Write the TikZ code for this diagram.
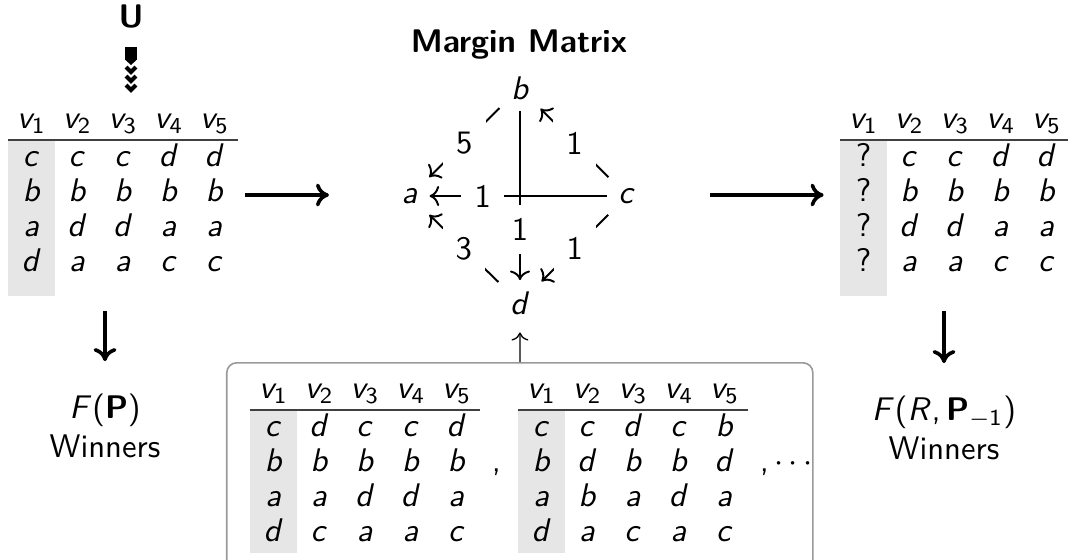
\documentclass[tikz,border=0pt]{standalone}
\renewcommand{\familydefault}{\sfdefault}
\DeclareSymbolFont{operators}{OT1}{cmss}{m}{n}
\DeclareSymbolFont{letters}{OT1}{cmss}{m}{sl}
\SetMathAlphabet{\mathbf}{normal}{OT1}{cmss}{bx}{n}
\DeclareMathSymbol{,}{\mathpunct}{operators}{"2C}
\usetikzlibrary{positioning,arrows.meta,backgrounds,calc,matrix}
\definecolor{VoterGray}{HTML}{E6E6E6}
\definecolor{FrameGray}{HTML}{9A9A9A}

\tikzset{
  ballot/.style={matrix of math nodes, inner sep=0pt, column sep=0pt, row sep=0pt,
    nodes={minimum width=14pt, inner xsep=0pt, inner ysep=0.85pt,
      text height=7pt, text depth=2pt}},
  flow/.style={line width=1.1pt, -{Computer Modern Rightarrow[length=4pt, width=7pt]}},
  margin/.style={semithick, ->},
  weight/.style={fill=white, inner sep=4pt},
  ublock/.style={line width=3.4pt},
  chevron/.style={line width=1.2pt, line join=miter}
}

% grey first voter column and the rule under the header
\newcommand{\votercol}[2]{%
  \begin{scope}[on background layer]
    \fill[VoterGray] (#1-2-1.north west) rectangle ([yshift=-#2]#1-5-1.south east);
  \end{scope}
  \draw[black!75, line width=0.5pt] ([yshift=-0.5pt]#1-1-1.south west) -- ([yshift=-0.5pt]#1-1-5.south east);
}

\begin{document}
\begin{tikzpicture}[x=0.3058pt, y=-0.3058pt]
\useasboundingbox (0,0) rectangle (1068,560);

% sincere profile
\matrix (prof) [ballot, anchor=north west] at (8,102) {
  v_1 & v_2 & v_3 & v_4 & v_5 \\[1pt]
  c & c & c & d & d \\
  b & b & b & b & b \\
  a & d & d & a & a \\
  d & a & a & c & c \\
};
\votercol{prof}{4.5pt}

% voter 1 changes her ballot
\node[font=\bfseries] (voter) at (131,17) {U};
\coordinate (ublk) at (131,60);
\draw[ublock] ([yshift=-2pt]voter.south) -- (ublk);
\fill ($(ublk)+(-5.5,0)$) -- ($(ublk)+(0,5)$) -- ($(ublk)+(5.5,0)$) -- cycle;
\foreach \k in {0,1,2}
  \draw[chevron] ($(ublk)+(-5,7+9*\k)$) -- ($(ublk)+(0,12+9*\k)$) -- ($(ublk)+(5,7+9*\k)$);

\node[align=center] (winL) at (105,426) {$F(\mathbf{P})$\\Winners};
\draw[flow, shorten <=9pt, shorten >=6.5pt] (prof.south -| winL) -- (winL);

% margin graph
\node[font=\bfseries] (mmtitle) at (519,45) {Margin Matrix};
\node (cb) at (520,88) {$b$};
\node (ca) at (410,196) {$a$};
\node (cc) at (627,196) {$c$};
\node (cd) at (520,303) {$d$};

\draw[margin] (cb) -- node[weight] {5} (ca);
\draw[margin] (cc) -- node[weight] {1} (cb);
\draw[margin] (cd) -- node[weight] {3} (ca);
\draw[margin] (cc) -- node[weight] {1} (cd);
\draw[margin] (cc) -- node[weight, pos=0.7] {1} (ca);
\draw[margin] (cb) -- node[weight, pos=0.7] {1} (cd);

\coordinate (toM) at (329,195);
\draw[flow, shorten <=2pt] (prof.east |- toM) -- (toM);

% profile after voter 1 deviates
\matrix (dev) [ballot, anchor=north west] at (840,102) {
  v_1 & v_2 & v_3 & v_4 & v_5 \\[1pt]
  ? & c & c & d & d \\
  ? & b & b & b & b \\
  ? & d & d & a & a \\
  ? & a & a & c & c \\
};
\votercol{dev}{4.5pt}

\coordinate (fromM) at (710,195);
\draw[flow, shorten >=5pt] (fromM) -- (fromM -| dev.west);

\node[align=center] (winR) at (944,428) {$F(R,\mathbf{P}_{-1})$\\Winners};
\draw[flow, shorten <=9pt, shorten >=6.5pt] (dev.south -| winR) -- (winR);

% profiles with the same margins
\node[draw=FrameGray, line width=0.5pt, rounded corners=3pt, minimum width=179.2pt,
  minimum height=80pt, anchor=north west, inner sep=0pt] (pool) at (226,362) {};
\draw[thin, ->, shorten >=2pt] (pool) -- (cd);

\matrix (pa) [ballot, anchor=north west] at (250,372) {
  v_1 & v_2 & v_3 & v_4 & v_5 \\[1pt]
  c & d & c & c & d \\
  b & b & b & b & b \\
  a & a & d & d & a \\
  d & c & a & a & c \\
};
\votercol{pa}{0.6pt}
\node[anchor=base west] (comA) at (pa-3-5.base east) {$,$};

\matrix (pb) [ballot, anchor=north west] at (518,372) {
  v_1 & v_2 & v_3 & v_4 & v_5 \\[1pt]
  c & c & d & c & b \\
  b & d & b & b & d \\
  a & b & a & d & a \\
  d & a & c & a & c \\
};
\votercol{pb}{0.6pt}
\node[anchor=base west] (comB) at (pb-3-5.base east) {$,\cdots$};

\end{tikzpicture}
\end{document}
